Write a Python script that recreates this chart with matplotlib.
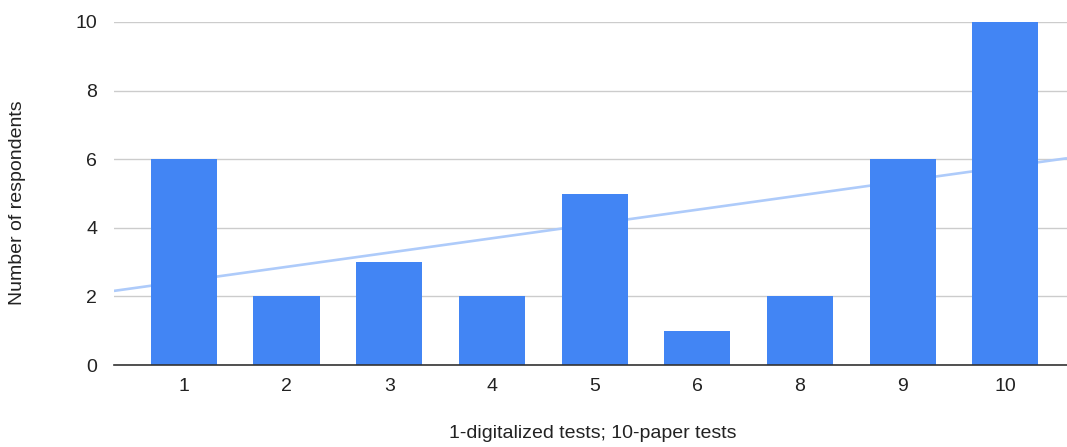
import matplotlib
matplotlib.use("Agg")
import matplotlib.pyplot as plt
import numpy as np

plt.rcParams['font.family'] = ['Liberation Sans', 'DejaVu Sans']

categories = ["1", "2", "3", "4", "5", "6", "8", "9", "10"]
respondents = [6, 2, 3, 2, 5, 1, 2, 6, 10]
y_ticks = [0, 2, 4, 6, 8, 10]

W, H = 1067, 447
fig = plt.figure(figsize=(W / 100, H / 100), dpi=100)
ax = fig.add_axes([0.1068, 0.1834, 0.8932, 0.7674])

x = np.arange(len(categories))
ax.bar(x, respondents, width=0.643, color="#4285F4", zorder=3)

# linear trendline fitted to data
slope, intercept = np.polyfit(x, respondents, 1)
xl = np.array([-0.68, 8.6])
ax.plot(xl, slope * xl + intercept, color="#aecbfa", linewidth=1.9, zorder=2,
        solid_capstyle="butt")

ax.set_xlim(-0.68, 8.6)
ax.set_ylim(0, 10)
ax.set_yticks(y_ticks)
ax.set_xticks(x)
ax.set_xticklabels(categories)
ax.yaxis.grid(True, color="#cccccc", linewidth=1.0, zorder=0)
ax.set_axisbelow(True)
for s in ["top", "right", "left"]:
    ax.spines[s].set_visible(False)
ax.spines["bottom"].set_color("#333333")
ax.spines["bottom"].set_linewidth(1.2)
ax.spines["bottom"].set_zorder(4)
ax.tick_params(axis="both", length=0, labelsize=14, colors="#222222")
ax.tick_params(axis="y", pad=12)
ax.tick_params(axis="x", pad=9)

fig.text(18 / W, 1 - 203 / H, "Number of respondents", rotation=90, fontsize=14,
         color="#222222", ha="center", va="center")
fig.text(593 / W, 1 - 434 / H, "1-digitalized tests; 10-paper tests", fontsize=14,
         color="#222222", ha="center", va="center")

fig.savefig("out.png", dpi=100)
